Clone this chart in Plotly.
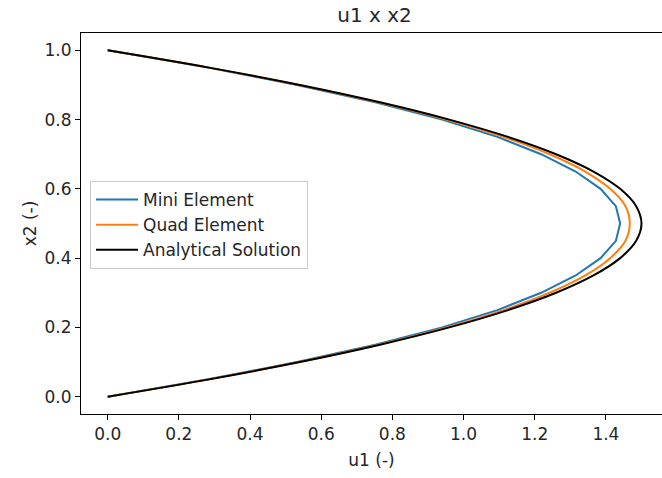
import plotly.graph_objects as go

# Vertical position across the channel
x2 = [0.0, 0.05, 0.1, 0.15, 0.2, 0.25, 0.3, 0.35, 0.4, 0.45, 0.5,
      0.55, 0.6, 0.65, 0.7, 0.75, 0.8, 0.85, 0.9, 0.95, 1.0]

# Horizontal velocity u1 for each discretisation
u1_mini = [0.0, 0.282, 0.532, 0.752, 0.940, 1.095, 1.218, 1.315, 1.385, 1.428, 1.440,
           1.428, 1.385, 1.315, 1.218, 1.095, 0.940, 0.752, 0.532, 0.282, 0.0]
u1_quad = [0.0, 0.284, 0.537, 0.760, 0.952, 1.112, 1.242, 1.342, 1.412, 1.455, 1.467,
           1.455, 1.412, 1.342, 1.242, 1.112, 0.952, 0.760, 0.537, 0.284, 0.0]
u1_exact = [0.0, 0.285, 0.540, 0.765, 0.960, 1.125, 1.260, 1.365, 1.440, 1.485, 1.500,
            1.485, 1.440, 1.365, 1.260, 1.125, 0.960, 0.765, 0.540, 0.285, 0.0]

x_ticks = [0.0, 0.2, 0.4, 0.6, 0.8, 1.0, 1.2, 1.4]
y_ticks = [0.0, 0.2, 0.4, 0.6, 0.8, 1.0]

FONT = "DejaVu Sans"
TXT = "#262626"
FS = 17

fig = go.Figure()
fig.add_trace(go.Scatter(x=u1_mini, y=x2, mode="lines", name="Mini Element",
                         legendgroup="a", line=dict(color="#1f77b4", width=2)))
fig.add_trace(go.Scatter(x=u1_quad, y=x2, mode="lines", name="Quad Element",
                         legendgroup="b", line=dict(color="#ff7f0e", width=2, shape="spline")))
fig.add_trace(go.Scatter(x=u1_exact, y=x2, mode="lines", name="Analytical Solution",
                         legendgroup="c", line=dict(color="#000000", width=2, shape="spline")))

axis_common = dict(
    showgrid=False, zeroline=False, showline=True, linecolor="#000000", linewidth=1,
    ticks="outside", ticklen=5, tickwidth=1, tickcolor="#000000",
    tickfont=dict(family=FONT, size=FS, color=TXT),
)

fig.update_layout(
    width=662, height=478,
    margin=dict(l=81, r=0, t=33, b=64),
    paper_bgcolor="white", plot_bgcolor="white",
    title=dict(text="u1 x x2", x=(81 + 668) / 2 / 662, xanchor="center",
               y=1 - 15 / 478, yanchor="middle",
               font=dict(family=FONT, size=20, color=TXT)),
    xaxis=dict(axis_common, range=[-0.075, 1.5576], tickvals=x_ticks,
               ticktext=[f"{v:.1f}" for v in x_ticks], mirror=True,
               title=dict(text="u1 (-)", font=dict(family=FONT, size=FS, color=TXT), standoff=10)),
    yaxis=dict(axis_common, range=[-0.05, 1.05], tickvals=y_ticks,
               ticktext=[f"{v:.1f}" for v in y_ticks], mirror=False,
               title=dict(text="x2 (-)", font=dict(family=FONT, size=FS, color=TXT), standoff=3)),
    legend=dict(x=(90 - 81) / (662 - 81), y=1 - (181 - 33) / (414 - 33),
                xanchor="left", yanchor="top", traceorder="grouped", tracegroupgap=0,
                itemwidth=42,
                bgcolor="rgba(255,255,255,0.8)", bordercolor="#cccccc", borderwidth=1,
                font=dict(family=FONT, size=FS, color=TXT)),
    showlegend=True,
)

fig.write_html("out.html")
